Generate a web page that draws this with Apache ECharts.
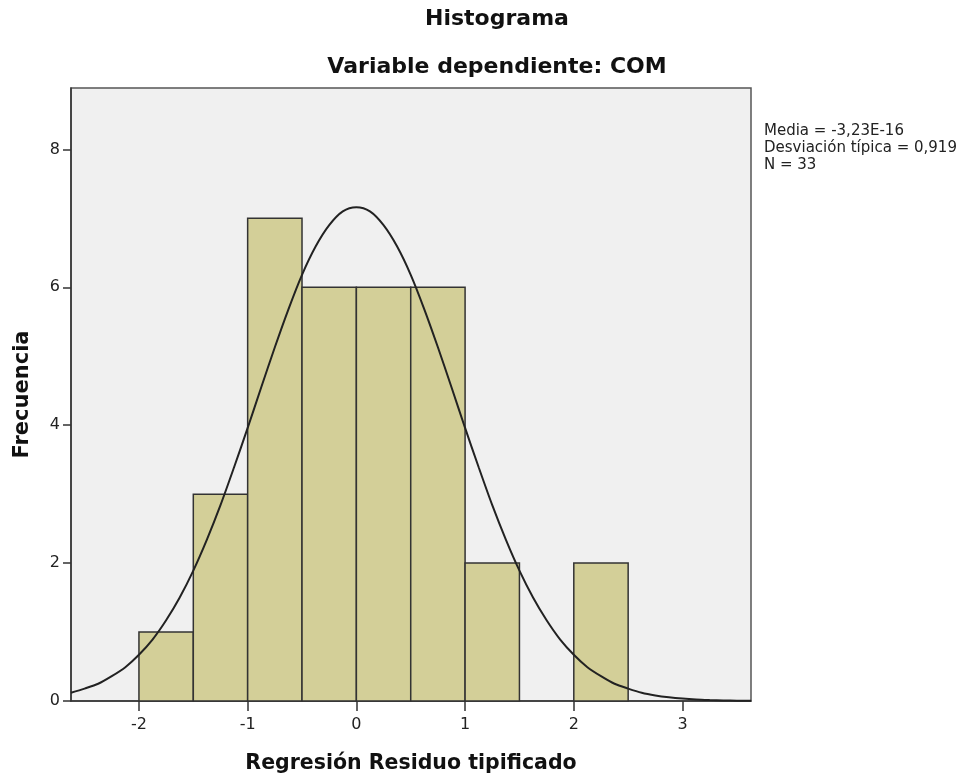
<!DOCTYPE html>
<html>
<head>
<meta charset="utf-8">
<script src="https://cdn.jsdelivr.net/npm/echarts@6/dist/echarts.min.js"></script>
<style>
  html, body { margin: 0; padding: 0; background: #fff; }
  #chart { width: 964px; height: 778px; }
</style>
</head>
<body>
<div id="chart"></div>
<script>
// Histogram bins (lower edge, upper edge) and counts
const binLow = [-2, -1.5, -1, -0.5, 0, 0.5, 1, 1.5, 2];
const binHigh = [-1.5, -1, -0.5, 0, 0.5, 1, 1.5, 2, 2.5];
const counts = [1, 3, 7, 6, 6, 6, 2, 0, 2];

// Normal curve
const curveX = [-2.625, -2.5, -2.375, -2.25, -2.125, -2, -1.875, -1.75, -1.625, -1.5, -1.375,
                -1.25, -1.125, -1, -0.875, -0.75, -0.625, -0.5, -0.375, -0.25, -0.125, 0,
                0.125, 0.25, 0.375, 0.5, 0.625, 0.75, 0.875, 1, 1.125, 1.25, 1.375, 1.5,
                1.625, 1.75, 1.875, 2, 2.125, 2.25, 2.375, 2.5, 2.625, 2.75, 2.875, 3,
                3.125, 3.25, 3.375, 3.5, 3.63];
const curveY = [0.12, 0.18, 0.25, 0.36, 0.49, 0.67, 0.89, 1.17, 1.50, 1.89, 2.34,
                2.84, 3.39, 3.96, 4.55, 5.13, 5.68, 6.18, 6.59, 6.90, 7.10, 7.16,
                7.10, 6.90, 6.59, 6.18, 5.68, 5.13, 4.55, 3.96, 3.39, 2.84, 2.34, 1.89,
                1.50, 1.17, 0.89, 0.67, 0.49, 0.36, 0.25, 0.18, 0.12, 0.081, 0.054, 0.035,
                0.022, 0.014, 0.008, 0.005, 0.002];

const xTicks = [-2, -1, 0, 1, 2, 3];
const yTicks = [0, 2, 4, 6, 8];

const titleText = 'Histograma';
const subtitleText = 'Variable dependiente: COM';
const statsLines = ['Media = -3,23E-16', 'Desviación típica = 0,919', 'N = 33'];

const chart = echarts.init(document.getElementById('chart'));

const barData = counts.map((c, i) => [binLow[i], binHigh[i], c]).filter(d => d[2] > 0);
const lineData = curveX.map((x, i) => [x, curveY[i]]);

const font = 'DejaVu Sans, sans-serif';

const option = {
    backgroundColor: '#ffffff',
    animation: false,
    grid: {
        left: 71, right: 213, top: 88, bottom: 77,
        outerBoundsMode: 'none',
        containLabel: false,
        show: true,
        backgroundColor: '#f0f0f0',
        borderColor: '#555',
        borderWidth: 1.5
    },
    xAxis: {
        type: 'value',
        min: -2.625, max: 3.63,
        name: 'Regresión Residuo tipificado',
        nameLocation: 'middle',
        nameGap: 52,
        nameTextStyle: { fontFamily: font, fontSize: 20.5, fontWeight: 'bold', color: '#111' },
        axisLine: { onZero: false, lineStyle: { color: '#333', width: 1.5 } },
        axisTick: { show: true, length: 10, lineStyle: { color: '#333', width: 1.5 },
                    customValues: xTicks },
        axisLabel: { fontFamily: font, fontSize: 16, color: '#222', margin: 16,
                     customValues: xTicks },
        splitLine: { show: false }
    },
    yAxis: {
        type: 'value',
        min: 0, max: 8.89,
        name: 'Frecuencia',
        nameLocation: 'middle',
        nameGap: 38,
        nameRotate: 90,
        nameTextStyle: { fontFamily: font, fontSize: 21, fontWeight: 'bold', color: '#111' },
        axisLine: { show: true, onZero: false, lineStyle: { color: '#333', width: 1.5 } },
        axisTick: { show: true, length: 8, lineStyle: { color: '#333', width: 1.5 },
                    customValues: yTicks },
        axisLabel: { fontFamily: font, fontSize: 16, color: '#222', margin: 11,
                     customValues: yTicks },
        splitLine: { show: false }
    },
    series: [
        {
            type: 'custom',
            data: barData,
            encode: { x: [0, 1], y: 2 },
            renderItem: function (params, api) {
                const p0 = api.coord([api.value(0), 0]);
                const p1 = api.coord([api.value(1), api.value(2)]);
                return {
                    type: 'rect',
                    shape: { x: p0[0], y: p1[1], width: p1[0] - p0[0], height: p0[1] - p1[1] },
                    style: { fill: '#d3cf98', stroke: '#333', lineWidth: 1.5 }
                };
            },
            z: 2
        },
        {
            type: 'line',
            data: lineData,
            smooth: 0.3,
            showSymbol: false,
            lineStyle: { color: '#222', width: 2 },
            z: 3
        }
    ],
    graphic: [
        {
            type: 'text', x: 497, y: 19,
            style: {
                text: titleText, fontFamily: font, fontSize: 22, fontWeight: 'bold',
                fill: '#111', align: 'center', verticalAlign: 'middle'
            }
        },
        {
            type: 'text', x: 497, y: 67,
            style: {
                text: subtitleText, fontFamily: font, fontSize: 22, fontWeight: 'bold',
                fill: '#111', align: 'center', verticalAlign: 'middle'
            }
        },
        {
            type: 'text', x: 764, y: 123,
            style: {
                text: statsLines.join('\n'),
                fontFamily: font, fontSize: 15, lineHeight: 16.7, fill: '#222'
            }
        }
    ]
};

chart.setOption(option);
</script>
</body>
</html>
